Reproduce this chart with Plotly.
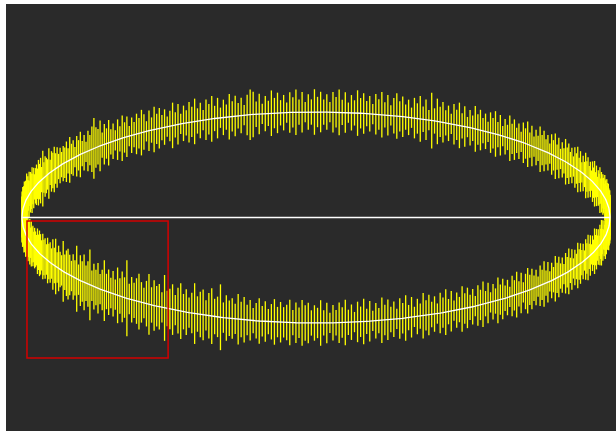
import numpy as np
import plotly.graph_objects as go

# Half-width of the vertical error bar at each sample
# (hex digit d -> d * err_unit data units), upper arc then lower arc, left to right.
upper_err_hex = [
    "7869587968 8697586a78 6958796857 869795b687 6a58796857",
    "5768596748 69574869c8 7a58695748 5968475869 7485968574",
    "6958475869 5748695847 59685748a9 5847596857 4869584759",
    "6857486958 4759685748 6958479685 74869584b5 9685748695",
    "8475968574 8695847596 8574869584 7596857486 9584759685",
    "7486958475 9685748695 8476958687 5978698579 6878597869",
]
lower_err_hex = [
    "8796879687 6978697869 7896978687 6979869786 9786a7b697",
    "6c79a8697d 6a8b79e697 a68c79696b 7a8f6979b8 69c7a896d7",
    "8a69b7968c 79a69b78d6 9786a79685 7968579686 7958697857",
    "6958475869 5748695847 5968574869 5847596857 4869584759",
    "6857486958 4759685748 6958479685 7486958475 9685748695",
    "8475968574 8695847596 8574869584 7596857486 9584759685",
]
err_unit = 0.024

# selection box (data coords)
box_x = [-0.983, -0.503]
box_y = [-0.033, -1.332]

x_range = [-1.0544, 1.0204]
y_range = [-2.024, 2.024]


def decode(rows):
    s = "".join(rows).replace(" ", "")
    return np.array([int(c, 16) for c in s]) * err_unit


up_err = decode(upper_err_hex)
lo_err = decode(lower_err_hex)

th_up = np.linspace(np.pi, 0, len(up_err))
th_lo = np.linspace(np.pi, 2 * np.pi, len(lo_err))

x_all = np.concatenate([np.cos(th_up), np.cos(th_lo)])
y_all = np.concatenate([np.sin(th_up), np.sin(th_lo)])
e_all = np.concatenate([up_err, lo_err])

fig = go.Figure()
fig.add_trace(go.Scatter(
    x=x_all, y=y_all, mode="lines",
    line=dict(width=0, color="rgba(0,0,0,0)"),
    error_y=dict(type="data", array=e_all, visible=True,
                 color="#ffff00", thickness=1.3, width=0),
    hoverinfo="skip", showlegend=False,
))
fig.add_trace(go.Scatter(
    x=x_all, y=y_all, mode="lines",
    line=dict(width=1.3, color="#ffffff"),
    showlegend=False,
))

fig.add_shape(type="rect", xref="x", yref="y",
              x0=box_x[0], x1=box_x[1], y0=box_y[0], y1=box_y[1],
              line=dict(color="#d40000", width=1.5))

fig.update_layout(
    width=616, height=431,
    margin=dict(l=6, r=0, t=4, b=0, pad=0),
    paper_bgcolor="#ffffff",
    plot_bgcolor="#2a2a2a",
    showlegend=False,
    xaxis=dict(range=x_range, visible=False, showgrid=False, zeroline=False),
    yaxis=dict(range=y_range, visible=False, showgrid=False, zeroline=False),
)

fig.write_html("out.html", config={"displayModeBar": False},
               post_script="document.body.style.margin='0';")
